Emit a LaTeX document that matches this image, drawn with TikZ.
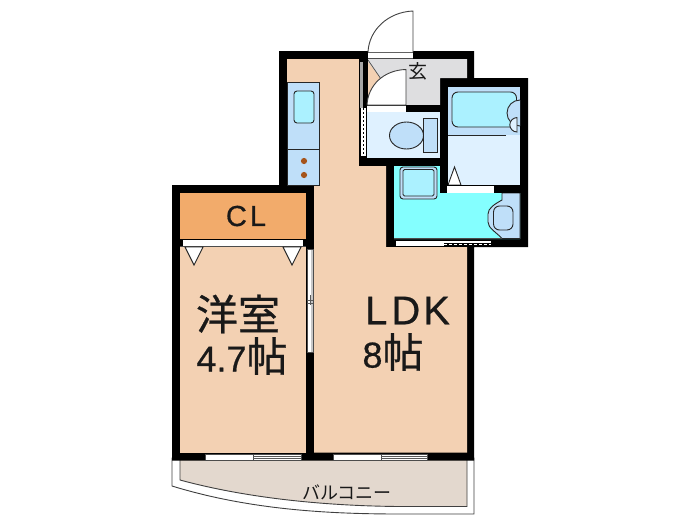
\documentclass[tikz,border=0pt]{standalone}
\usepackage{fontspec}
\setmainfont[FakeBold=0.6]{Liberation Sans}
\newfontfamily\cjk[FakeBold=0.6]{Noto Sans CJK JP}
\newfontfamily\cjkthin{Noto Sans CJK JP}
\definecolor{peach}{HTML}{F3D1B3}
\definecolor{orangeCL}{HTML}{F2AB6B}
\definecolor{lblue}{HTML}{BFDFF9}
\definecolor{pblue}{HTML}{DFF1FF}
\definecolor{tub}{HTML}{ABF1FF}
\definecolor{cyanf}{HTML}{84FFFF}
\definecolor{gen}{HTML}{DEDEE0}
\definecolor{balc}{HTML}{E3D8CE}
\definecolor{burner}{HTML}{A5541B}
\tikzset{
  ln/.style={draw=black!85,line width=0.9pt},
  fix/.style={ln,fill=#1},
  win/.style={draw=black!70,line width=0.6pt,fill=white},
  lab/.style={inner sep=0pt,text=black!90}
}
\begin{document}
\begin{tikzpicture}[x=1pt,y=-1pt]
\useasboundingbox (0,0) rectangle (700,525);
% balcony
\draw[black!75,line width=0.9pt,fill=white] (172,458) -- (172,486) .. controls (250,510) and (330,514) .. (400,514) -- (474,514) -- (474,458) -- cycle;
\draw[black!75,line width=0.9pt,fill=balc] (180,458) -- (180,480) .. controls (250,499) and (330,506) .. (400,506.5) -- (467,506.5) -- (467,458) -- cycle;
% walls
\fill[black] (279,51) -- (474,51) -- (474,78) -- (528,78) -- (528,247) -- (474,247) -- (474,460.5) -- (172,460.5) -- (172,185) -- (279,185) -- cycle;
% main rooms
\fill[peach] (287,59) -- (359,59) -- (359,166) -- (386,166) -- (386,247) -- (467,247) -- (467,452.5) -- (314,452.5) -- (314,185) -- (287,185) -- cycle;
\fill[peach] (180,246) rectangle (306,452.5);
\fill[orangeCL] (180,193) rectangle (306,238.5);
% closet door
\fill[white] (183,239.5) rectangle (303,246);
\draw[black!70,line width=0.8pt] (180,246.5) -- (306,246.5);
\draw[fix=white] (185,247) -- (203,247) -- (194,265) -- cycle;
\draw[fix=white] (283,247) -- (301,247) -- (292,265) -- cycle;
% side sliding door
\fill[white] (306.5,249) rectangle (313,352);
\fill[black!22] (310.5,249) rectangle (313,352);
\draw[black!70,line width=0.6pt] (307,249) rectangle (313,352);
\draw[black!65,line width=0.6pt] (307,300) -- (313,300) (307,303) -- (313,303) (310,295) -- (310,305);
% kitchen
\draw[fix=lblue] (287,82) rectangle (319,185);
\draw[ln] (287,149) -- (319,149);
\draw[fix=tub,rounded corners=3pt] (294,91) rectangle (314,123);
\fill[burner] (304,161) circle (3.1) (304,175) circle (3.1);
% genkan
\fill[gen] (368,59) -- (467,59) -- (467,78) -- (440,78) -- (440,105) -- (368,105) -- cycle;
\fill[peach] (368,62) -- (381,79) -- (368,96) -- cycle;
\draw[black!70,line width=0.7pt] (368,60) -- (381,79) -- (368,96);
% strip along the corridor
\fill[black] (359,59) rectangle (368,166);
\fill[black!35] (360,62) rectangle (363,108);
\fill[white] (361,108) rectangle (366,156);
\draw[black,line width=1pt,dash pattern=on 2pt off 2pt] (363,108) -- (363,156);
% entrance door
\fill[white] (368,51.5) rectangle (413,59);
\draw[black!70,line width=0.7pt] (368,52) -- (413,52) (368,58.5) -- (413,58.5);
\draw[black!75,line width=0.9pt,fill=white] (368,52) .. controls (369,30) and (388,12) .. (413,11) -- (413,52);
% inner door
\draw[black!75,line width=0.9pt,fill=white] (367,105) .. controls (368,85) and (384,70) .. (406,69.5) -- (406,105) -- cycle;
\fill[white] (367,106) rectangle (406,111.5);
\fill[black] (406,105) rectangle (440,112);
% toilet
\fill[pblue] (367,112) rectangle (440,158);
\draw[fix=lblue] (406.5,135.5) ellipse (17 and 13.5);
\draw[fix=lblue] (423,118) rectangle (437.5,152);
% bath
\fill[pblue] (448,87) rectangle (520,185);
\fill[lblue] (448,87) rectangle (520,135);
\draw[ln] (448,135) -- (506,135);
\draw[fix=tub,rounded corners=6pt] (452,92) rectangle (516.5,127);
\draw[fix=lblue] (520,126) arc (90:270:13);
\draw[fix=pblue] (517,132) arc (90:270:7.2) -- cycle;
\draw[fix=white] (448,185) -- (461,185) -- (454.5,167) -- cycle;
% washroom
\fill[cyanf] (394,166) -- (440,166) -- (440,193) -- (520,193) -- (520,239) -- (394,239) -- cycle;
\draw[fix=lblue,rounded corners=3pt] (400,167) rectangle (437,199);
\draw[fix=tub,rounded corners=1.5pt] (403,169.5) rectangle (434,196);
\draw[ln,fill=lblue] (502,193) -- (502,200) .. controls (495,204) and (488,208) .. (488,214) -- (488,222) .. controls (488,228) and (496,232) .. (502,238.5) -- (520,238.5) -- (520,193) -- cycle;
\draw[fix=lblue,rounded corners=6pt] (493.5,206) rectangle (513,230);
\draw[black!70,line width=0.6pt] (502,238.7) -- (394,238.7);
\fill[black] (440,166) rectangle (448,193);
\fill[black] (448,185) rectangle (528,193);
\fill[white] (447,186) rectangle (494,192.5);
\fill[white] (396,240.5) rectangle (444,245.5);
\fill[white] (444,240.5) rectangle (491,243);
\draw[white,line width=1.3pt,dash pattern=on 3pt off 2pt] (444,244.5) -- (491,244.5);
% balcony windows
\draw[win] (205,454) rectangle (253,460);
\draw[win] (253,454) rectangle (301,460);
\draw[black!65,line width=0.6pt] (253,456.5) -- (301,456.5) (253,458) -- (301,458);
\draw[win] (333,454) rectangle (381,460);
\draw[win] (381,454) rectangle (427,460);
\draw[black!65,line width=0.6pt] (381,456.5) -- (427,456.5) (381,458) -- (427,458);
% labels
\node[lab,font=\fontsize{29}{29}\selectfont] (cl) at (246,216) {C\kern3pt L};
\node[lab,font=\fontsize{42}{42}\cjk] (yo) at (238,314) {洋室};
\node[lab,font=\fontsize{36}{36}\selectfont] (sz) at (242,356) {4.7{\cjk\fontsize{41}{41}\selectfont 帖}};
\node[lab,font=\fontsize{40}{40}\selectfont] (ldk) at (407.5,310.5) {L\kern4pt D\kern3pt K};
\node[lab,font=\fontsize{36}{36}\selectfont] (eight) at (393,352) {8{\cjk\fontsize{41}{41}\selectfont 帖}};
\node[lab,font=\fontsize{19}{19}\cjkthin] (gk) at (418,71) {玄};
\node[lab,font=\fontsize{18}{18}\cjkthin] (bl) at (347,492) {バルコニー};
\end{tikzpicture}
\end{document}
